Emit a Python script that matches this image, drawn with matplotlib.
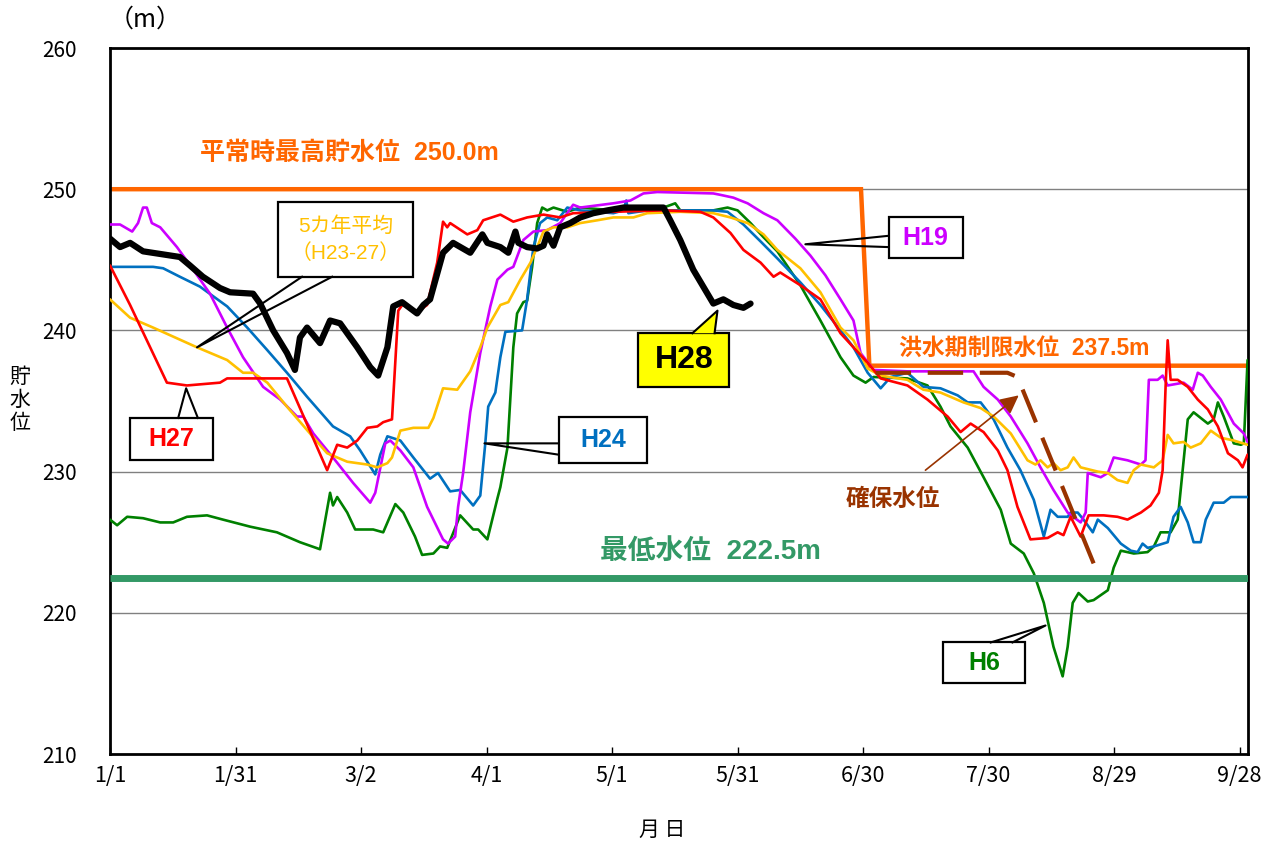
import matplotlib
matplotlib.use("Agg")
import matplotlib.pyplot as plt
from matplotlib.patches import Rectangle, Polygon

plt.rcParams['font.family'] = ['Liberation Sans', 'Noto Sans CJK JP', 'DejaVu Sans']

# ---------------- data (day of year from 1/1, water level m) ----------------
h28_day = [0, 2.4, 4.8, 7.9, 16.7, 19.1, 22.2, 26.3, 28.7, 34.2, 35.9, 39.0, 42.3, 44.2, 45.4,
           47.1, 50.2, 52.6, 55.0, 59.1, 62.2, 64.1, 66.3, 67.7, 69.8, 73.4, 74.9, 76.5, 79.6,
           82.0, 86.1, 89.0, 90.2, 93.3, 95.2, 96.9, 97.6, 99.7, 102.1, 103.6, 104.5, 106.0,
           107.6, 110.0, 112.4, 115.5, 118.9, 122.7, 132.3, 133.9, 136.3, 139.4, 141.8, 144.2,
           146.6, 149.0, 151.4, 153.1]
h28_lvl = [246.5, 245.9, 246.2, 245.6, 245.2, 244.6, 243.8, 243.0, 242.7, 242.6, 241.9, 240.0,
           238.4, 237.2, 239.5, 240.2, 239.1, 240.7, 240.5, 238.8, 237.4, 236.8, 238.8, 241.7,
           242.0, 241.2, 241.8, 242.2, 245.5, 246.2, 245.5, 246.8, 246.2, 245.9, 245.5, 247.0,
           246.2, 245.9, 245.8, 246.0, 246.8, 246.0, 247.3, 247.6, 248.0, 248.3, 248.5, 248.7,
           248.7, 247.8, 246.4, 244.3, 243.1, 241.9, 242.2, 241.8, 241.6, 241.9]

h27_day = [0, 4.8, 13.6, 18.4, 26.3, 28.0, 31.8, 42.3, 51.9, 54.3, 56.7, 59.1, 61.5, 63.9, 65.3,
           67.4, 68.9, 70.1, 73.4, 75.8, 78.2, 79.6, 80.6, 81.3, 85.4, 87.8, 89.2, 93.3, 96.4,
           99.7, 103.6, 107.6, 110.7, 120.3, 132.3, 141.1, 144.2, 148.3, 151.4, 155.5, 158.6,
           160.2, 165.0, 169.8, 174.6, 177.7, 181.1, 184.2, 190.6, 195.4, 200.2, 203.3, 205.7,
           208.8, 212.2, 214.5, 216.9, 220.0, 224.1, 226.5, 227.9, 229.6, 232.0, 233.9, 237.5,
           240.8, 243.2, 246.4, 248.7, 250.7, 251.6, 252.3, 252.8, 253.5, 255.2, 257.6, 260.0,
           262.4, 264.8, 267.2, 269.6, 270.7, 271.9]
h27_lvl = [244.6, 241.8, 236.3, 236.1, 236.3, 236.6, 236.6, 236.6, 230.1, 231.9, 231.7, 232.2,
           233.1, 233.2, 233.5, 233.7, 241.4, 241.9, 241.3, 241.8, 244.8, 247.7, 247.3, 247.6,
           246.8, 247.1, 247.8, 248.2, 247.7, 248.0, 248.2, 248.0, 248.3, 248.4, 248.5, 248.4,
           248.0, 246.9, 245.7, 244.8, 243.8, 244.1, 243.2, 242.2, 239.8, 238.8, 237.7, 236.6,
           236.1, 235.1, 233.9, 232.8, 233.4, 232.8, 231.5, 230.1, 227.5, 225.2, 225.3, 225.7,
           225.5, 226.8, 225.4, 226.9, 226.9, 226.8, 226.6, 227.1, 227.6, 228.5, 230.1, 236.0,
           239.3, 236.5, 236.5, 236.0, 235.1, 234.4, 233.2, 231.3, 230.8, 230.3, 231.2]

h19_day = [0, 2.4, 5.3, 6.7, 7.9, 8.8, 10.0, 12.0, 16.0, 19.9, 23.9, 28.0, 31.8, 36.6, 40.7,
           44.7, 46.2, 48.6, 53.3, 58.1, 62.2, 63.4, 65.8, 67.0, 69.4, 72.5, 75.8, 79.6, 80.8,
           82.5, 83.2, 84.4, 86.1, 88.5, 90.9, 92.6, 95.0, 96.4, 98.8, 101.2, 104.5, 107.6,
           110.7, 112.4, 120.3, 124.4, 127.5, 130.8, 144.2, 145.9, 149.0, 152.4, 156.2, 159.5,
           163.8, 167.4, 171.0, 174.6, 177.7, 179.4, 182.5, 190.6, 206.4, 208.8, 212.2, 215.3,
           219.3, 222.4, 225.5, 228.9, 232.0, 233.2, 233.7, 236.8, 238.5, 239.9, 243.2, 246.4,
           247.5, 248.3, 250.4, 251.6, 252.8, 256.6, 258.8, 260.0, 261.2, 263.1, 265.5, 268.6,
           271.0, 271.9]
h19_lvl = [247.5, 247.5, 247.0, 247.6, 248.7, 248.7, 247.6, 247.3, 245.9, 244.3, 242.6, 240.2,
           238.1, 236.0, 235.1, 233.9, 233.9, 232.7, 231.0, 229.2, 227.8, 228.5, 232.0, 232.2,
           231.5, 230.3, 227.5, 225.2, 224.9, 225.4, 227.5, 229.9, 234.2, 238.4, 241.7, 243.6,
           244.3, 244.5, 246.4, 247.0, 247.1, 247.6, 248.9, 248.7, 249.0, 249.2, 249.7, 249.8,
           249.7, 249.6, 249.4, 249.0, 248.3, 247.8, 246.5, 245.3, 243.9, 242.2, 240.7, 238.4,
           237.2, 237.1, 237.1, 236.0, 235.1, 233.9, 232.0, 230.3, 228.7, 227.1, 226.4, 227.1,
           229.9, 229.6, 229.9, 231.0, 230.8, 230.5, 230.8, 236.5, 236.5, 236.8, 236.1, 236.3,
           235.8, 237.0, 236.8, 236.0, 235.1, 233.4, 232.7, 232.1]

h24_day = [0, 10.3, 12.7, 16.7, 21.5, 28.0, 32.8, 37.6, 42.3, 47.1, 53.3, 57.4, 59.8, 63.4,
           64.6, 66.3, 69.4, 72.5, 76.5, 78.4, 81.3, 83.7, 86.8, 88.5, 89.7, 90.4, 92.1, 93.3,
           94.5, 98.5, 99.7, 101.2, 102.8, 104.5, 106.9, 109.3, 112.4, 120.3, 122.7, 123.4,
           123.9, 128.4, 144.2, 147.6, 151.4, 155.5, 159.5, 165.0, 169.8, 174.6, 177.7, 181.1,
           184.2, 186.6, 190.6, 194.4, 198.5, 202.6, 205.0, 208.1, 211.2, 214.5, 217.6, 220.8,
           223.2, 224.8, 226.5, 228.9, 229.6, 231.3, 232.7, 234.9, 236.1, 238.5, 241.6, 244.0,
           245.6, 246.8, 248.0, 249.5, 252.8, 254.2, 255.9, 257.6, 259.0, 260.7, 261.9, 263.8,
           266.2, 267.9, 271.9]
h24_lvl = [244.5, 244.5, 244.4, 243.8, 243.1, 241.7, 240.2, 238.6, 237.0, 235.3, 233.2, 232.5,
           231.5, 229.8, 231.2, 232.5, 232.2, 231.0, 229.5, 229.9, 228.6, 228.7, 227.6, 228.3,
           232.0, 234.6, 235.6, 238.1, 239.9, 240.0, 242.2, 245.9, 247.6, 248.0, 247.8, 248.7,
           248.5, 248.3, 248.5, 249.2, 248.3, 248.5, 248.5, 248.4, 247.5, 246.3, 245.1, 243.4,
           241.8, 240.0, 238.8, 237.0, 235.9, 236.7, 237.0, 236.0, 235.9, 235.4, 234.9, 234.9,
           233.7, 231.7, 230.1, 228.0, 225.4, 227.3, 226.8, 226.8, 227.1, 227.1, 226.6, 225.7,
           226.6, 226.0, 224.9, 224.4, 224.3, 224.9, 224.6, 224.7, 225.0, 226.8, 227.5, 226.4,
           225.0, 225.0, 226.6, 227.8, 227.8, 228.2, 228.2]

h6_day = [0, 1.7, 4.1, 7.9, 12.0, 15.1, 18.4, 23.2, 27.0, 33.5, 39.9, 45.4, 50.2, 52.6, 53.3,
          54.3, 56.7, 58.6, 62.9, 65.3, 68.2, 70.1, 72.9, 74.6, 77.3, 78.9, 80.6, 83.7, 86.8,
          88.0, 90.2, 92.6, 93.3, 95.0, 96.4, 97.3, 98.8, 99.7, 100.9, 102.1, 103.3, 104.5,
          106.0, 109.3, 112.4, 120.3, 132.3, 135.1, 136.3, 144.2, 147.6, 150.0, 153.1, 156.2,
          159.5, 165.0, 169.8, 174.6, 177.7, 180.6, 182.5, 190.6, 195.4, 198.5, 200.9, 205.0,
          208.8, 212.9, 215.3, 218.4, 220.8, 223.2, 225.5, 227.7, 228.9, 230.1, 231.5, 233.7,
          235.1, 238.5, 239.9, 241.6, 244.7, 248.0, 249.5, 251.1, 253.5, 255.2, 257.6, 259.0,
          262.4, 263.8, 264.8, 266.2, 268.6, 270.3, 271.0, 271.9]
h6_lvl = [226.6, 226.2, 226.8, 226.7, 226.4, 226.4, 226.8, 226.9, 226.6, 226.1, 225.7, 225.0,
          224.5, 228.5, 227.6, 228.2, 227.1, 225.9, 225.9, 225.7, 227.7, 227.1, 225.4, 224.1,
          224.2, 224.7, 224.6, 226.9, 225.9, 225.9, 225.2, 228.1, 228.9, 231.7, 238.8, 241.2,
          242.0, 242.1, 244.5, 247.6, 248.7, 248.5, 248.7, 248.4, 248.7, 248.5, 248.7, 249.0,
          248.5, 248.5, 248.7, 248.5, 247.6, 246.6, 245.6, 243.2, 240.7, 238.1, 236.8, 236.3,
          236.7, 236.6, 236.1, 234.6, 233.2, 231.7, 229.6, 227.3, 224.9, 224.2, 222.8, 220.7,
          217.6, 215.5, 217.6, 220.7, 221.4, 220.8, 220.9, 221.6, 223.2, 224.4, 224.2, 224.3,
          224.7, 225.7, 225.7, 226.6, 233.7, 234.2, 233.4, 233.7, 234.9, 233.9, 232.0, 231.9,
          232.0, 237.9]

avg_day = [0, 4.8, 10.3, 20.8, 28.0, 31.8, 34.2, 37.6, 42.3, 47.8, 51.9, 56.7, 61.5, 63.9,
           66.3, 67.4, 69.4, 72.5, 76.1, 77.3, 79.6, 83.0, 86.1, 88.5, 90.2, 93.3, 95.2, 98.1,
           100.5, 102.1, 103.6, 106.0, 109.3, 112.4, 116.5, 120.3, 125.1, 128.4, 136.3, 144.2,
           148.3, 152.4, 156.2, 159.5, 165.0, 169.8, 174.6, 177.7, 181.1, 184.2, 190.6, 194.4,
           198.5, 204.0, 208.1, 211.2, 215.3, 219.3, 221.2, 222.4, 224.1, 225.5, 227.2, 228.9,
           230.3, 232.0, 236.1, 238.5, 240.8, 243.2, 244.7, 246.4, 249.5, 251.6, 252.8, 254.2,
           256.6, 258.3, 260.7, 263.1, 265.5, 268.6, 271.9]
avg_lvl = [242.2, 240.9, 240.2, 238.8, 237.9, 237.0, 237.0, 236.3, 234.6, 232.7, 231.3, 230.7,
           230.5, 230.3, 230.6, 231.0, 232.9, 233.1, 233.1, 233.8, 235.9, 235.8, 237.1, 238.8,
           240.2, 241.8, 242.0, 243.6, 244.8, 245.9, 247.0, 247.3, 247.3, 247.6, 247.8, 248.0,
           248.0, 248.3, 248.4, 248.3, 248.0, 247.6, 246.8, 245.7, 244.4, 242.7, 240.2, 239.3,
           237.3, 236.8, 236.5, 235.8, 235.6, 234.9, 234.5, 233.9, 232.7, 230.8, 230.5, 230.8,
           230.3, 230.6, 230.1, 230.3, 231.0, 230.3, 230.0, 229.9, 229.4, 229.2, 230.1, 230.5,
           230.3, 230.8, 232.6, 232.0, 232.1, 231.7, 232.0, 232.9, 232.4, 232.2, 231.9]

# reference levels
max_day = [0, 179.5, 181.5, 272]
max_lvl = [250.0, 250.0, 237.5, 237.5]
min_day = [0, 272]
min_lvl = [222.5, 222.5]
secure_day = [183.0, 214.5, 216.9, 235.1]
secure_lvl = [237.0, 237.0, 236.7, 223.5]

tick_days = [0, 30, 60, 90, 120, 150, 180, 210, 240, 270]
tick_labels = ['1/1', '1/31', '3/2', '4/1', '5/1', '5/31', '6/30', '7/30', '8/29', '9/28']
y_ticks = [210, 220, 230, 240, 250, 260]

# ---------------- figure ----------------
fig = plt.figure(figsize=(12.76, 8.48), dpi=100)
ax = fig.add_axes([110/1276, 1-754/848, (1248-110)/1276, (754-48)/848])
ax.set_xlim(0, 272)
ax.set_ylim(210, 260)

for yv in y_ticks[1:-1]:
    ax.axhline(yv, color='#808080', lw=1.0, zorder=1)

ax.plot(max_day, max_lvl, color='#FF6600', lw=3.2, zorder=2, solid_joinstyle='miter')

kw = dict(lw=1.9, zorder=3, solid_joinstyle='round', solid_capstyle='round')
ax.plot(h6_day, h6_lvl, color='#008000', **kw)
ax.plot(h24_day, h24_lvl, color='#0070C0', **kw)
ax.plot(h19_day, h19_lvl, color='#CC00FF', **kw)
ax.plot(avg_day, avg_lvl, color='#FFC000', **kw)
ax.plot(h27_day, h27_lvl, color='#FF0000', **kw)
ax.plot(h28_day, h28_lvl, color='black', lw=4.5, zorder=4, solid_joinstyle='round',
        solid_capstyle='round')

ax.plot(min_day, min_lvl, color='#339966', lw=5.0, zorder=5, solid_capstyle='butt')
ax.plot(secure_day, secure_lvl, color='#993300', lw=3.0, zorder=5,
        dashes=(8.5, 4), solid_joinstyle='round')

for s in ax.spines.values():
    s.set_linewidth(2.0)
    s.set_color('black')
ax.set_xticks(tick_days)
ax.set_xticklabels(tick_labels)
ax.set_yticks(y_ticks)
ax.tick_params(axis='x', direction='in', length=5, width=1, pad=8, labelsize=15.5)
ax.tick_params(axis='y', length=0, pad=24, labelsize=15)
for lab in ax.get_xticklabels() + ax.get_yticklabels():
    lab.set_family(['Noto Sans CJK JP', 'DejaVu Sans'])

# ---------------- texts ----------------
ax.text(21.5, 252.6, '平常時最高貯水位  250.0m', color='#FF6600', fontsize=18,
        fontweight='bold', va='center', ha='left', zorder=8)
ax.text(188.5, 238.7, '洪水期制限水位  237.5m', color='#FF6600', fontsize=16.5,
        fontweight='bold', va='center', ha='left', zorder=8)
ax.text(117.2, 224.3, '最低水位  222.5m', color='#339966', fontsize=20,
        fontweight='bold', va='center', ha='left', zorder=8)
ax.text(175.8, 228.0, '確保水位', color='#993300', fontsize=17,
        fontweight='bold', va='center', ha='left', zorder=8)
ax.annotate('', xy=(217.2, 235.4), xytext=(194.9, 230.1),
            arrowprops=dict(arrowstyle='-|>', color='#993300', lw=1.2,
                            mutation_scale=28, shrinkA=0, shrinkB=0), zorder=8)


def callout(x0, x1, y0, y1, side, b1, b2, tip, fc, text, color, fs, bold=True):
    ax.add_patch(Rectangle((x0, y0), x1 - x0, y1 - y0, fc=fc, ec='black', lw=1.6, zorder=9))
    if side == 'left':
        p1, p2 = (x0, b1), (x0, b2)
    elif side == 'top':
        p1, p2 = (b1, y1), (b2, y1)
    else:
        p1, p2 = (b1, y0), (b2, y0)
    if fc != 'white':
        ax.add_patch(Polygon([p1, tip, p2], closed=True, fc=fc, ec='none', zorder=10))
    ax.plot([p1[0], tip[0], p2[0]], [p1[1], tip[1], p2[1]], color='black', lw=1.5, zorder=10)
    ax.text((x0 + x1) / 2, (y0 + y1) / 2, text, color=color, fontsize=fs,
            fontweight='bold' if bold else 'normal', ha='center', va='center',
            zorder=11, linespacing=1.45)


callout(186.1, 203.8, 245.1, 248.0, 'left', 246.7, 245.9, (166.2, 246.1), 'white', 'H19', '#CC00FF', 18)
callout(4.8, 24.6, 230.8, 233.8, 'top', 16.3, 21.0, (18.2, 235.9), 'white', 'H27', '#FF0000', 18)
callout(40.2, 72.5, 243.8, 249.1, 'bottom', 45.9, 53.1, (20.8, 238.8), 'white',
        '5カ年平均\n（H23-27）', '#FFC000', 15, bold=False)
callout(107.2, 128.4, 230.6, 233.9, 'left', 232.0, 231.2, (89.5, 232.0), 'white', 'H24', '#0070C0', 18)
callout(126.3, 148.0, 236.0, 239.8, 'top', 139.2, 144.5, (145.2, 241.4), '#FFFF00', 'H28', 'black', 23)
callout(199.2, 218.6, 215.0, 217.9, 'top', 210.5, 215.7, (223.6, 219.1), 'white', 'H6', '#008000', 18)

fig.text(145/1276, 1-20/848, '（m）', fontsize=18, ha='center', va='center',
         family=['Noto Sans CJK JP', 'DejaVu Sans'])
fig.text(20/1276, 1-400/848, '貯\n水\n位', fontsize=15, ha='center', va='center',
         linespacing=1.05, family=['Noto Sans CJK JP', 'DejaVu Sans'])
fig.text(662/1276, 1-830/848, '月 日', fontsize=15, ha='center', va='center',
         family=['Noto Sans CJK JP', 'DejaVu Sans'])

fig.savefig('out.png', dpi=100, facecolor='white')
